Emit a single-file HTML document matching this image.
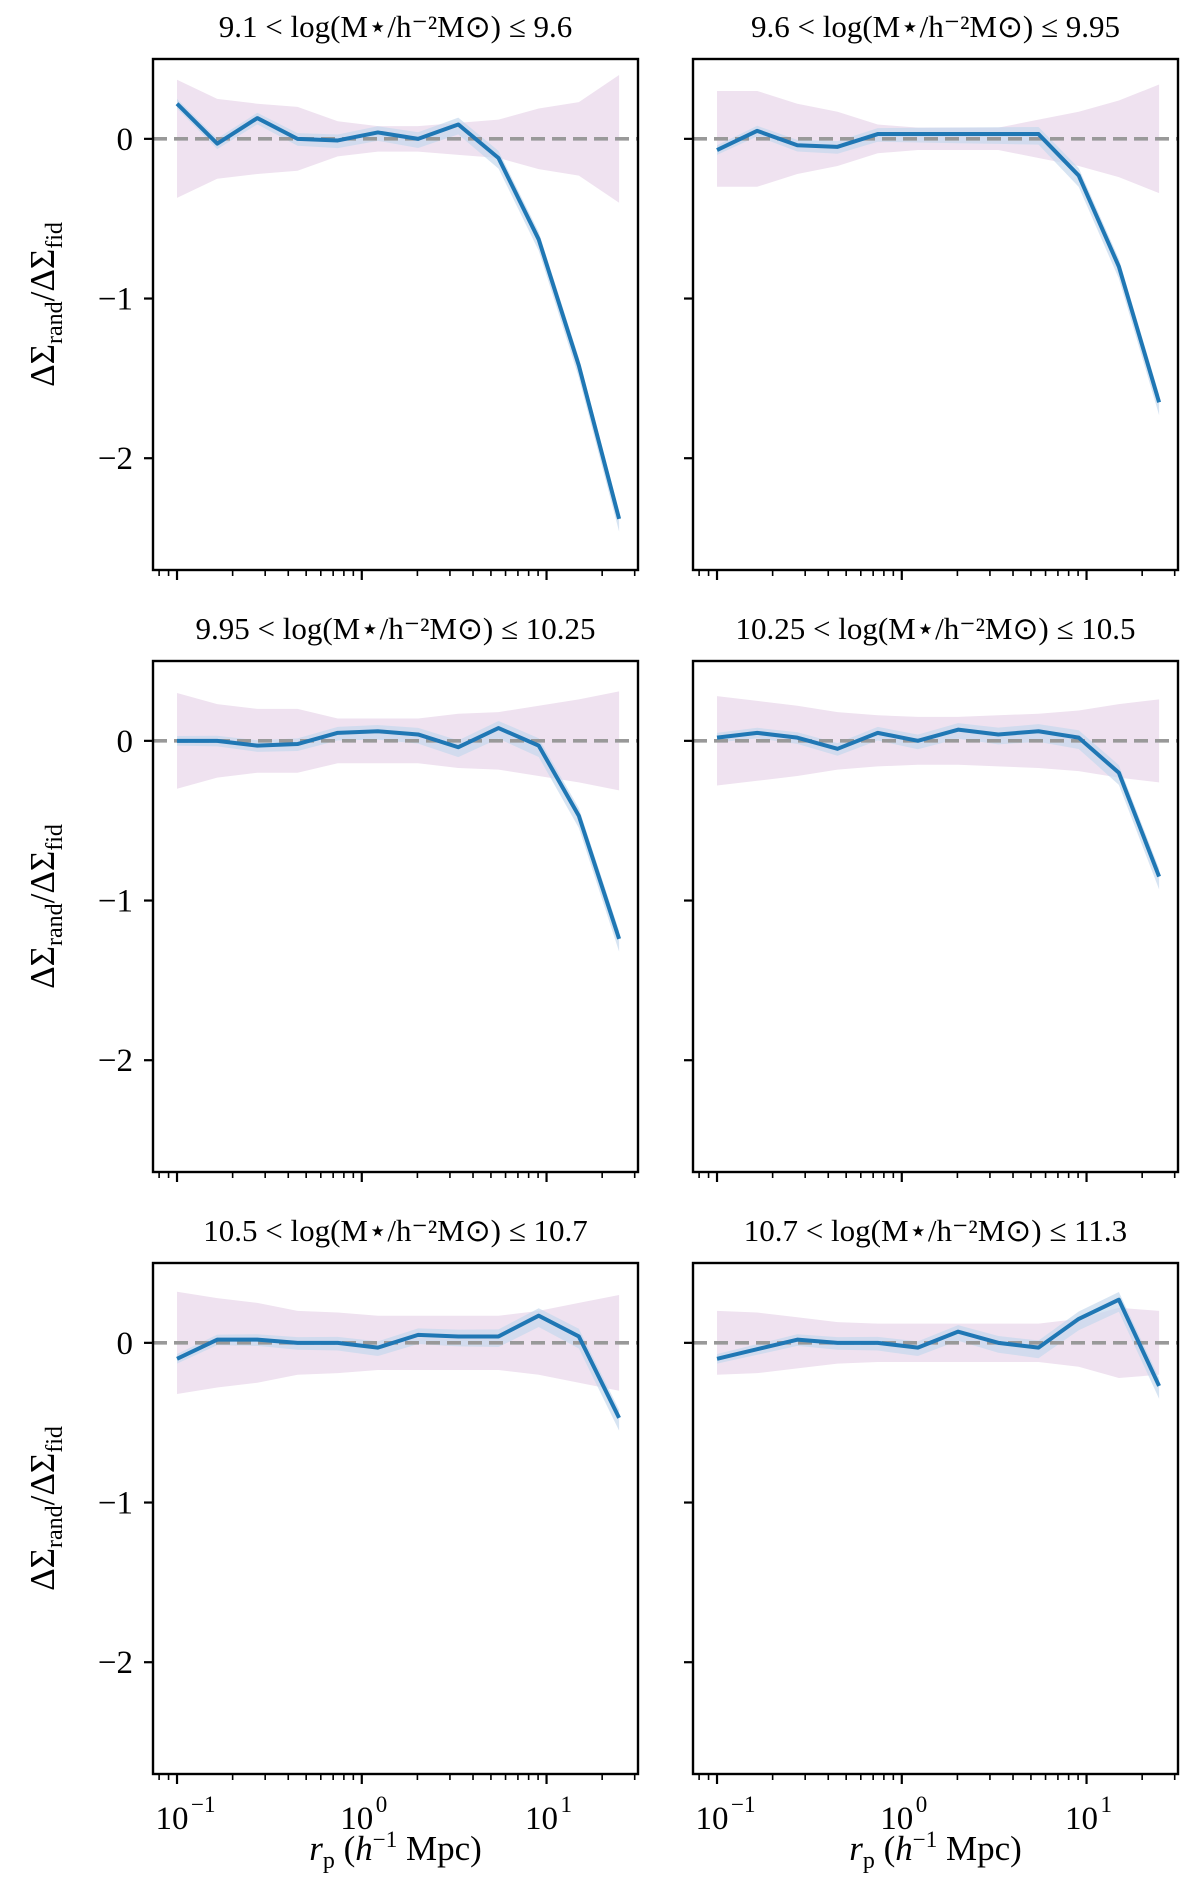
<!DOCTYPE html>
<html><head><meta charset="utf-8"><style>
html,body{margin:0;padding:0;background:#fff;}
svg{display:block;}
text{font-family:"Liberation Serif",serif;fill:#000;}
</style></head><body>
<svg id="fig" width="1200" height="1891" viewBox="0 0 1200 1891" xmlns="http://www.w3.org/2000/svg"></svg>
<script>
const rpValues = [0.1,0.165,0.272,0.449,0.741,1.222,2.018,3.33,5.495,9.07,14.96,24.7];
const titles = ["9.1 < log(M\u22C6/h\u207B\u00B2M\u2299) \u2264 9.6","9.6 < log(M\u22C6/h\u207B\u00B2M\u2299) \u2264 9.95","9.95 < log(M\u22C6/h\u207B\u00B2M\u2299) \u2264 10.25","10.25 < log(M\u22C6/h\u207B\u00B2M\u2299) \u2264 10.5","10.5 < log(M\u22C6/h\u207B\u00B2M\u2299) \u2264 10.7","10.7 < log(M\u22C6/h\u207B\u00B2M\u2299) \u2264 11.3"];
const ratio1 = [0.22,-0.03,0.13,0.0,-0.01,0.04,0.0,0.09,-0.12,-0.63,-1.42,-2.38];
const ratio2 = [-0.07,0.05,-0.04,-0.05,0.03,0.03,0.03,0.03,0.03,-0.23,-0.8,-1.65];
const ratio3 = [0.0,0.0,-0.03,-0.02,0.05,0.06,0.04,-0.04,0.08,-0.03,-0.47,-1.24];
const ratio4 = [0.02,0.05,0.02,-0.05,0.05,0.0,0.07,0.04,0.06,0.02,-0.2,-0.85];
const ratio5 = [-0.1,0.02,0.02,0.0,0.0,-0.03,0.05,0.04,0.04,0.17,0.04,-0.47];
const ratio6 = [-0.1,-0.04,0.02,0.0,0.0,-0.03,0.07,0.0,-0.03,0.15,0.27,-0.27];
const band1 = [0.37,0.25,0.22,0.2,0.11,0.08,0.08,0.1,0.12,0.19,0.23,0.4];
const band2 = [0.3,0.3,0.22,0.17,0.09,0.07,0.07,0.07,0.12,0.17,0.24,0.34];
const band3 = [0.3,0.23,0.2,0.2,0.14,0.14,0.14,0.17,0.18,0.22,0.26,0.31];
const band4 = [0.28,0.25,0.22,0.18,0.16,0.15,0.15,0.16,0.17,0.19,0.23,0.26];
const band5 = [0.32,0.28,0.25,0.2,0.19,0.17,0.17,0.17,0.17,0.2,0.25,0.3];
const band6 = [0.2,0.19,0.16,0.13,0.12,0.12,0.12,0.12,0.12,0.15,0.22,0.2];
const yTicks = [0,-1,-2];
const yTickLabels = ["0","\u22121","\u22122"];
const xTicks = [0.1,1,10];
const xTickExp = ["\u22121","0","1"];

const ratios=[ratio1,ratio2,ratio3,ratio4,ratio5,ratio6];
const bands=[band1,band2,band3,band4,band5,band6];
const NS="http://www.w3.org/2000/svg";
const svg=document.getElementById('fig');
function mk(tag,attrs,parent){const e=document.createElementNS(NS,tag);for(const k in attrs)e.setAttribute(k,attrs[k]);(parent||svg).appendChild(e);return e;}
const colLeft=[153,693], W=485, rowTop=[59,661,1263], H=511;
const XMIN=-1.13, XMAX=1.495, YMIN=-2.7, YMAX=0.5;
for(let p=0;p<6;p++){
  const c=p%2,r=Math.floor(p/2);
  const L=colLeft[c],T=rowTop[r];
  const sx=v=>L+(Math.log10(v)-XMIN)/(XMAX-XMIN)*W;
  const sy=v=>T+(YMAX-v)/(YMAX-YMIN)*H;
  const g=mk('g',{});
  
  
  const t=mk('text',{x:L+W/2,y:T-22,'text-anchor':'middle','font-size':31},g);
  t.textContent=titles[p];
  
  
  let d='';
  rpValues.forEach((x,i)=>{d+=(i?'L':'M')+sx(x)+','+sy(bands[p][i]);});
  for(let i=rpValues.length-1;i>=0;i--)d+='L'+sx(rpValues[i])+','+sy(-bands[p][i]);
  const b=mk('path',{d:d+'Z',fill:'#efe2f0'},g);
  
  
  let d2='';
  rpValues.forEach((x,i)=>{d2+=(i?'L':'M')+sx(x)+','+sy(ratios[p][i]+0.03+0.02*i/11);});
  for(let i=rpValues.length-1;i>=0;i--)d2+='L'+sx(rpValues[i])+','+sy(ratios[p][i]-0.03-0.05*i/11);
  const bb=mk('path',{d:d2+'Z',fill:'#c6d8ec',opacity:0.7},g);
  
  
  const z=mk('line',{x1:L,x2:L+W,y1:sy(0),y2:sy(0),stroke:'#999','stroke-width':3.6,'stroke-dasharray':'14,7'},g);
  
  
  const pts=rpValues.map((x,i)=>sx(x)+','+sy(ratios[p][i])).join(' ');
  const ln=mk('polyline',{points:pts,fill:'none',stroke:'#1f77b4','stroke-width':4,'stroke-linejoin':'round'},g);
  
  
  const fr=mk('rect',{x:L,y:T,width:W,height:H,fill:'none',stroke:'#000','stroke-width':2.4},g);
  
  
  yTicks.forEach((v,i)=>{
    mk('line',{x1:L-9,x2:L,y1:sy(v),y2:sy(v),stroke:'#000','stroke-width':2.2},g);
    if(c===0){const tl=mk('text',{x:L-20,y:sy(v)+11,'text-anchor':'end','font-size':33},g);tl.textContent=yTickLabels[i];
      
      }
  });
  for(let e=-2;e<=1;e++)for(let m=1;m<10;m++){
    const v=m*Math.pow(10,e),lv=Math.log10(v);
    if(lv<XMIN||lv>XMAX)continue;
    const len=m===1?10:6;
    mk('line',{x1:sx(v),x2:sx(v),y1:T+H,y2:T+H+len,stroke:'#000','stroke-width':m===1?2.2:1.6},g);
  }
  if(r===2){
    xTicks.forEach((v,i)=>{
      const tx=mk('text',{x:sx(v)-5,y:T+H+55,'text-anchor':'middle','font-size':33},g);
      tx.textContent='10';
      
      
      const ex=mk('text',{x:sx(v)+14,y:T+H+38,'font-size':23},g);
      ex.textContent=xTickExp[i];
    });
    const xl=mk('text',{x:L+W/2,y:1860,'text-anchor':'middle','font-size':35},g);
    xl.innerHTML='<tspan font-style="italic">r</tspan><tspan font-size="24" dy="8">p</tspan><tspan dy="-8"> (</tspan><tspan font-style="italic">h</tspan><tspan font-size="23" dy="-13">\u22121</tspan><tspan dy="13"> Mpc)</tspan>';
    
    
  }
  if(c===0){
    const cy=T+H/2-10;
    const yl=mk('text',{x:0,y:0,'text-anchor':'middle','font-size':35,transform:'translate(54,'+cy+') rotate(-90)'},g);
    yl.innerHTML='\u0394\u03A3<tspan font-size="24" dy="8">rand</tspan><tspan dy="-8">/\u0394\u03A3</tspan><tspan font-size="24" dy="8">fid</tspan>';
    
    
  }
}
</script>
</body></html>
